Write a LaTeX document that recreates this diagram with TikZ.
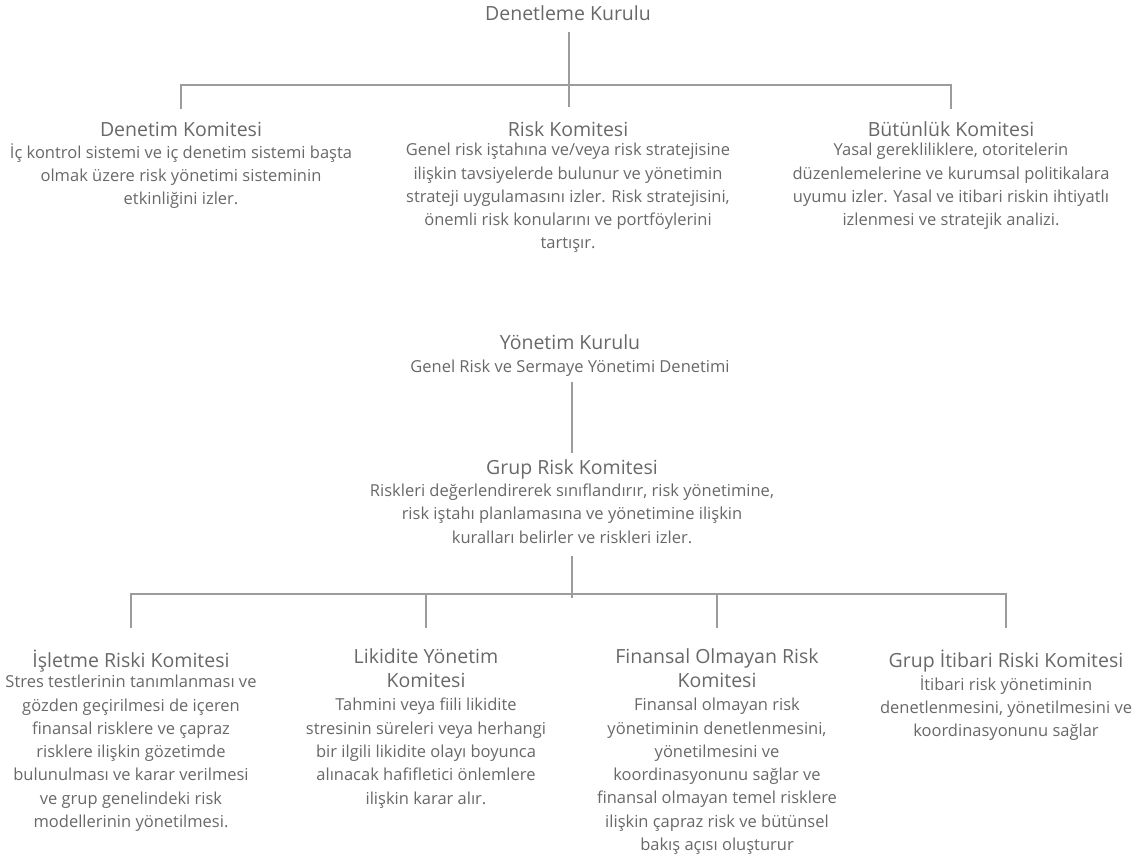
\documentclass[tikz,border=0pt]{standalone}
\usepackage{fontspec}
\setmainfont{Open Sans}
\definecolor{txt}{HTML}{686868}
\definecolor{lin}{HTML}{9C9C9C}
\tikzset{
  ttl/.style={font=\fontsize{19.5}{24.5}\selectfont, text=txt, inner sep=0pt, align=center, anchor=north,
    execute at begin node={\rule{0pt}{19.5pt}}},
  dsc/.style={font=\fontsize{16.5}{23.3}\selectfont, text=txt, inner sep=0pt, align=center, anchor=north,
    execute at begin node={\rule{0pt}{16.5pt}}},
  ln/.style={draw=lin, line width=1.6pt}
}
\begin{document}
\begin{tikzpicture}[x=1pt,y=-1pt]
\useasboundingbox (0,0) rectangle (1135,861);
% ---------- top ----------
\node[ttl] (dk) at (568,1) {Denetleme Kurulu};
\node[ttl] (den) at (181,117) {Denetim Komitesi};
\node[dsc] (dend) at (181,143) {İç kontrol sistemi ve iç denetim sistemi başta\\olmak üzere risk yönetimi sisteminin\\etkinliğini izler.};
\node[ttl] (rk) at (568,117) {Risk Komitesi};
\node[dsc] (rkd) at (568,143) {Genel risk iştahına ve/veya risk stratejisine\\ilişkin tavsiyelerde bulunur ve yönetimin\\strateji uygulamasını izler. Risk stratejisini,\\önemli risk konularını ve portföylerini\\tartışır.};
\node[ttl] (bk) at (951,117) {Bütünlük Komitesi};
\node[dsc] (bkd) at (951,143) {Yasal gerekliliklere, otoritelerin\\düzenlemelerine ve kurumsal politikalara\\uyumu izler. Yasal ve itibari riskin ihtiyatlı\\izlenmesi ve stratejik analizi.};
\coordinate (c0) at (569,32);
\coordinate (c1) at (569,107);
\coordinate (bl) at (181,85);
\coordinate (br) at (951,85);
\coordinate (blt) at (181,109);
\coordinate (brt) at (951,109);
\draw[ln] (c0) -- (c1);
\draw[ln] (blt) -- (bl) -- (br) -- (brt);
% ---------- middle ----------
\node[ttl] (yk) at (570,330) {Yönetim Kurulu};
\node[dsc] (ykd) at (570,355.6) {Genel Risk ve Sermaye Yönetimi Denetimi};
\node[ttl] (grk) at (572,455) {Grup Risk Komitesi};
\node[dsc] (grkd) at (572,483.6) {Riskleri değerlendirerek sınıflandırır, risk yönetimine,\\risk iştahı planlamasına ve yönetimine ilişkin\\kuralları belirler ve riskleri izler.};
\coordinate (m0) at (572,382);
\coordinate (m1) at (572,453);
\draw[ln] (m0) -- (m1);
\coordinate (g0) at (572,556);
\coordinate (g1) at (572,598);
\draw[ln] (g0) -- (g1);
\coordinate (b1) at (131,594);
\coordinate (b2) at (426,594);
\coordinate (b3) at (717,594);
\coordinate (b4) at (1006,594);
\coordinate (b1t) at (131,628);
\coordinate (b2t) at (426,628);
\coordinate (b3t) at (717,628);
\coordinate (b4t) at (1006,628);
\draw[ln] (b1t) -- (b1) -- (b4) -- (b4t);
\draw[ln] (b2) -- (b2t);
\draw[ln] (b3) -- (b3t);
% ---------- bottom ----------
\node[ttl] (irk) at (131,648) {İşletme Riski Komitesi};
\node[dsc] (irkd) at (131,675) {Stres testlerinin tanımlanması ve\\gözden geçirilmesi de içeren\\finansal risklere ve çapraz\\risklere ilişkin gözetimde\\bulunulması ve karar verilmesi\\ve grup genelindeki risk\\modellerinin yönetilmesi.};
\node[ttl] (lyk) at (426,648) {Likidite Yönetim\\Komitesi};
\node[dsc] (lykd) at (426,698) {Tahmini veya fiili likidite\\stresinin süreleri veya herhangi\\bir ilgili likidite olayı boyunca\\alınacak hafifletici önlemlere\\ilişkin karar alır.};
\node[ttl] (for) at (717,648) {Finansal Olmayan Risk\\Komitesi};
\node[dsc] (ford) at (717,698) {Finansal olmayan risk\\yönetiminin denetlenmesini,\\yönetilmesini ve\\koordinasyonunu sağlar ve\\finansal olmayan temel risklere\\ilişkin çapraz risk ve bütünsel\\bakış açısı oluşturur};
\node[ttl] (gir) at (1006,648) {Grup İtibari Riski Komitesi};
\node[dsc] (gird) at (1006,675) {İtibari risk yönetiminin\\denetlenmesini, yönetilmesini ve\\koordinasyonunu sağlar};
\end{tikzpicture}
\end{document}
